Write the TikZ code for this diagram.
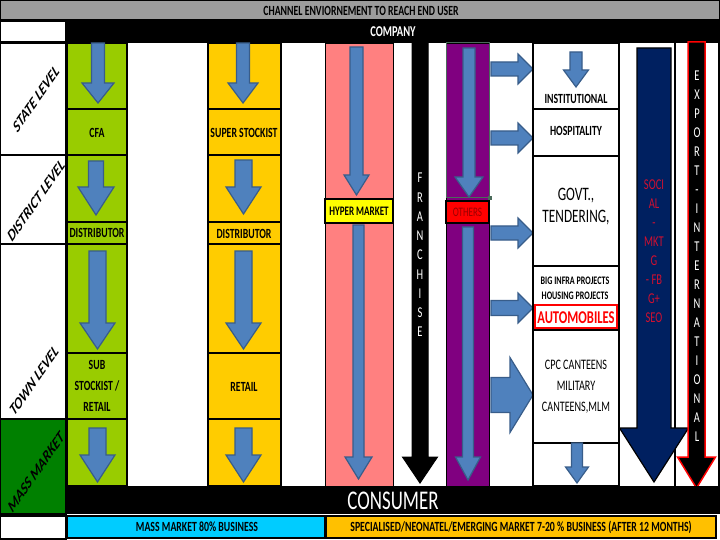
\documentclass[tikz,border=0pt]{standalone}
\usepackage{fontspec}
\setmainfont{Carlito}[FakeStretch=0.7]
\newfontfamily\plainfont{Carlito}
\definecolor{hdrgray}{HTML}{9C9C9C}
\definecolor{limec}{HTML}{99CC00}
\definecolor{goldc}{HTML}{FFCC00}
\definecolor{pinkc}{HTML}{FF8080}
\definecolor{purpc}{HTML}{800080}
\definecolor{dgreenc}{HTML}{008000}
\definecolor{cyanc}{HTML}{00CCFF}
\definecolor{goldbc}{HTML}{FFC000}
\definecolor{navyc}{HTML}{002060}
\definecolor{ablue}{HTML}{4F81BD}
\definecolor{aedge}{HTML}{385D8A}
\definecolor{socred}{HTML}{D01030}
\definecolor{othred}{HTML}{9A0000}
\definecolor{selgreen}{HTML}{4A6A5A}
\definecolor{hypyel}{HTML}{FFFF00}
\definecolor{redc}{HTML}{FF0000}
\newcommand\dnarrow[7]{%
  \filldraw[#7] ({#1-#5/2},#2) -- ({#1+#5/2},#2) -- ({#1+#5/2},#3) -- ({#1+#6/2},#3) -- (#1,#4) -- ({#1-#6/2},#3) -- ({#1-#5/2},#3) -- cycle;}
\newcommand\rtarrow[6]{%
  \filldraw[barrow] (#2,{#1-#5/2}) -- (#3,{#1-#5/2}) -- (#3,{#1-#6/2}) -- (#4,#1) -- (#3,{#1+#6/2}) -- (#3,{#1+#5/2}) -- (#2,{#1+#5/2}) -- cycle;}
\newcommand\slant[1]{\scalebox{0.7}[1]{\rotatebox{45}{\plainfont\bfseries\itshape\fontsize{17}{19}\selectfont #1}}}
\begin{document}
\begin{tikzpicture}[x=1pt,y=-1pt,
  cell/.style={draw=black,line width=1.5pt},
  thincell/.style={draw=black,line width=0.8pt},
  barrow/.style={fill=ablue,draw=aedge,line width=1.2pt,line join=miter},
  blkarrow/.style={fill=black,draw=black,line width=1pt},
  navyarrow/.style={fill=navyc,draw=black,line width=1.2pt},
  exparrow/.style={fill=black,draw=redc,line width=1.5pt},
  lbl/.style={font=\bfseries\fontsize{14}{21}\selectfont,text=black,inner sep=0pt,align=center},
  stack/.style={font=\fontsize{15}{19.25}\selectfont,text=white,inner sep=0pt,align=center},
  every node/.style={inner sep=0pt}
]
\useasboundingbox (0,0) rectangle (720,540);
\fill[white] (0,0) rectangle (720,540);
% header
\filldraw[cell,fill=hdrgray] (0,0) rectangle (720,20);
\node[font=\bfseries\fontsize{14}{16}\selectfont] (title) at (361,11) {CHANNEL ENVIORNEMENT TO REACH END USER};
\filldraw[cell,fill=white] (0,21) rectangle (66,42);
\fill[black] (66,21) rectangle (720,43);
\node[font=\bfseries\fontsize{15}{17}\selectfont,text=white] (company) at (393,32) {COMPANY};
% left level labels
\filldraw[cell,fill=white] (0,43) rectangle (66,155);
\filldraw[cell,fill=white] (0,155) rectangle (66,244);
\filldraw[cell,fill=white] (0,244) rectangle (66,419);
\filldraw[cell,fill=dgreenc] (0,419) rectangle (66,514);
\filldraw[cell,fill=white] (0,516) rectangle (66,539);
\node (state) at (36,99) {\slant{STATE LEVEL}};
\node (district) at (36,201) {\slant{DISTRICT LEVEL}};
\node (town) at (34,381) {\slant{TOWN LEVEL}};
\node (mass) at (36,472) {\slant{MASS MARKET}};
% green and yellow column cells
\foreach \a/\b in {43/109,109/155,155/222,222/244,244/353,353/419,419/486}{
  \filldraw[cell,fill=limec] (67,\a) rectangle (127,\b);
  \filldraw[cell,fill=goldc] (208,\a) rectangle (281,\b);}
\dnarrow{98}{43}{83}{103}{13}{32}{barrow}
\dnarrow{96}{161}{187}{215}{15}{36}{barrow}
\dnarrow{97.5}{251}{323}{349}{17}{35}{barrow}
\dnarrow{97.5}{428}{455}{482}{17}{35}{barrow}
\node[lbl] (cfa) at (97,133) {CFA};
\node[lbl] (dist1) at (97,233) {DISTRIBUTOR};
\node[lbl] (sub) at (97,386) {SUB\\STOCKIST /\\RETAIL};
% yellow column
\dnarrow{243}{43}{83}{103}{13}{30}{barrow}
\dnarrow{243.5}{160}{187}{214}{17}{35}{barrow}
\dnarrow{243.5}{251}{323}{349}{17}{35}{barrow}
\dnarrow{243.5}{428}{455}{482}{17}{35}{barrow}
\node[lbl] (super) at (244,133) {SUPER STOCKIST};
\node[lbl] (dist2) at (244,234) {DISTRIBUTOR};
\node[lbl] (retail) at (244,387) {RETAIL};
% pink column
\filldraw[thincell,fill=pinkc] (325,43) rectangle (393,486);
\filldraw[cell,fill=hypyel] (325,199) rectangle (393,223);
\node[lbl,font=\bfseries\fontsize{13}{15}\selectfont] (hyper) at (359,211) {HYPER MARKET};
\dnarrow{356.5}{47}{175}{195}{13}{25}{barrow}
\dnarrow{358.5}{225}{457}{479}{11}{27}{barrow}
% franchise
\dnarrow{420}{43}{457}{483}{16}{35}{blkarrow}
\node[stack] (franchise) at (420,255) {F\\R\\A\\N\\C\\H\\I\\S\\E};
% purple column
\filldraw[thincell,fill=purpc] (446,43) rectangle (489,486);
\draw[selgreen,line width=1pt] (446,43) rectangle (489,198);
\fill[selgreen] (487.5,196) rectangle (491.5,200);
\filldraw[cell,fill=redc] (446,201) rectangle (489,223);
\node[font=\fontsize{13}{15}\selectfont,text=othred] (others) at (467.5,212) {OTHERS};
\dnarrow{469}{48}{177}{197}{12}{28}{barrow}
\dnarrow{468}{227}{457}{480}{11}{25}{barrow}
% right pointing arrows
\rtarrow{69}{491}{518}{533}{14}{30}
\rtarrow{138}{491}{518}{533}{14}{30}
\rtarrow{233}{491}{518}{533}{14}{30}
\rtarrow{308}{491}{518}{533}{15}{30}
\rtarrow{395}{491}{510}{533}{35}{75}
% box column
\filldraw[cell,fill=white] (533,43) rectangle (619,109);
\filldraw[cell,fill=white] (533,109) rectangle (619,156);
\filldraw[cell,fill=white] (533,156) rectangle (619,266);
\filldraw[cell,fill=white] (533,266) rectangle (619,330);
\filldraw[cell,fill=white] (533,330) rectangle (619,443);
\filldraw[cell,fill=white] (533,443) rectangle (619,486);
\draw[redc,line width=1.2pt] (535,305) rectangle (617,328);
\dnarrow{576}{52}{70}{87}{12}{25}{barrow}
\dnarrow{577}{443}{467}{483}{11}{23}{barrow}
\node[lbl] (inst) at (576,99) {INSTITUTIONAL};
\node[lbl] (hosp) at (576,131) {HOSPITALITY};
\node[font=\fontsize{19}{22}\selectfont,align=center] (govt) at (576,207) {GOVT.,\\TENDERING,};
\node[lbl,font=\bfseries\fontsize{11.5}{15}\selectfont] (infra) at (575,288) {BIG INFRA PROJECTS\\HOUSING PROJECTS};
\node[font=\bfseries\fontsize{18}{20}\selectfont,text=redc] (auto) at (576,318) {AUTOMOBILES};
\node[font=\fontsize{14.5}{21}\selectfont,align=center] (cpc) at (576,387) {CPC CANTEENS\\MILITARY\\CANTEENS,MLM};
% social marketing
\draw[line width=1.2pt] (675,43) -- (675,486);
\draw[line width=1.2pt] (719,43) -- (719,486);
\dnarrow{654}{48}{428}{482}{34}{69}{navyarrow}
\node[stack,text=socred,font=\fontsize{15}{19}\selectfont] (social) at (654,251.5) {SOCI\\AL\\-\\MKT\\G\\- FB\\G+\\SEO};
% export
\dnarrow{696.5}{42}{457}{488}{17}{38}{exparrow}
\node[stack,font=\fontsize{15}{19}\selectfont] (export) at (697,256.5) {E\\X\\P\\O\\R\\T\\-\\I\\N\\T\\E\\R\\N\\A\\T\\I\\O\\N\\A\\L};
% consumer
\fill[black] (66,486) rectangle (720,514);
\node[font=\fontsize{27}{30}\selectfont,text=white] (consumer) at (393,501) {CONSUMER};
\filldraw[cell,fill=cyanc] (67,516) rectangle (325,538);
\node[lbl] (massbiz) at (197,527) {MASS MARKET 80\% BUSINESS};
\filldraw[cell,fill=goldbc] (326,516) rectangle (716,538);
\node[lbl] (special) at (521,527) {SPECIALISED/NEONATEL/EMERGING MARKET 7-20 \% BUSINESS (AFTER 12 MONTHS)};
\end{tikzpicture}
\end{document}
